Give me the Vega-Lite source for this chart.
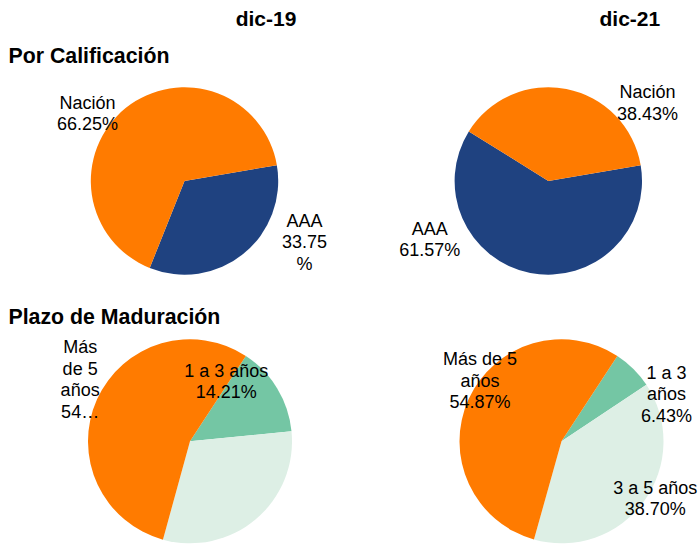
{
  "$schema": "https://vega.github.io/schema/vega-lite/v6.json",
  "width": 698,
  "height": 546,
  "autosize": {"type": "none"},
  "padding": 0,
  "background": "white",
  "config": {
    "view": {"stroke": null},
    "axisY": {"title": null, "domain": false, "ticks": false, "tickSize": 0, "grid": false, "labelFont": "Liberation Sans", "labelFontWeight": "bold", "labelFontSize": 21.3, "labelColor": "#000000", "labelPadding": -8, "labelAlign": "left", "labelBaseline": "alphabetic", "labelOffset": -118, "labelLimit": 400, "labelOverlap": false, "labelBound": false},
    "text": {"font": "Liberation Sans", "fontSize": 18, "lineBreak": "\n", "lineHeight": 21.5, "align": "center", "baseline": "alphabetic", "color": "#000000"}
  },
  "data": {
    "values": [
      {"panel": "Por Calificación", "period": "dic-19", "category": "AAA", "value": 33.75, "label": "AAA\n33.75\n%"},
      {"panel": "Por Calificación", "period": "dic-19", "category": "Nación", "value": 66.25, "label": "Nación\n66.25%"},
      {"panel": "Por Calificación", "period": "dic-21", "category": "AAA", "value": 61.57, "label": "AAA\n61.57%"},
      {"panel": "Por Calificación", "period": "dic-21", "category": "Nación", "value": 38.43, "label": "Nación\n38.43%"},
      {"panel": "Plazo de Maduración", "period": "dic-19", "category": "1 a 3 años", "value": 14.21, "label": "1 a 3 años\n14.21%"},
      {"panel": "Plazo de Maduración", "period": "dic-19", "category": "3 a 5 años", "value": 30.84, "label": ""},
      {"panel": "Plazo de Maduración", "period": "dic-19", "category": "Más de 5 años", "value": 54.95, "label": "Más\nde 5\naños\n54…"},
      {"panel": "Plazo de Maduración", "period": "dic-21", "category": "1 a 3 años", "value": 6.43, "label": "1 a 3\naños\n6.43%"},
      {"panel": "Plazo de Maduración", "period": "dic-21", "category": "3 a 5 años", "value": 38.70, "label": "3 a 5 años\n38.70%"},
      {"panel": "Plazo de Maduración", "period": "dic-21", "category": "Más de 5 años", "value": 54.87, "label": "Más de 5\naños\n54.87%"}
    ]
  },
  "resolve": {"scale": {"x": "independent", "theta": "independent"}, "axis": {"y": "shared"}},
  "layer": [
    {
      "transform": [{"filter": "datum.panel==='Por Calificación' && datum.period==='dic-19'"}],
      "mark": {"type": "arc", "outerRadius": 93.7},
      "encoding": {
        "x": {"field": "period", "type": "nominal", "scale": {"domain": ["dic-19", "dic-21"], "padding": 0.4593, "align": 0.5521},
          "axis": {"orient": "top", "title": null, "domain": false, "ticks": false, "tickSize": 0, "grid": false, "labelAngle": 0, "labelFont": "Liberation Sans", "labelFontWeight": "bold", "labelFontSize": 21, "labelColor": "#000000", "labelPadding": -25, "labelOffset": 81, "labelBaseline": "alphabetic", "labelAlign": "center", "labelOverlap": false, "labelBound": false}},
        "y": {"field": "panel", "type": "nominal", "scale": {"domain": ["Por Calificación", "Plazo de Maduración"], "padding": 0.5488, "align": 0.6335}},
        "theta": {"field": "value", "type": "quantitative", "stack": true, "scale": {"domain": [0, 100], "range": [1.4015, 7.6847]}},
        "order": {"field": "category", "sort": "ascending"},
        "color": {"field": "category", "type": "nominal", "legend": null, "scale": {"domain": ["AAA", "Nación", "1 a 3 años", "3 a 5 años", "Más de 5 años"], "range": ["#1F4280", "#FF7B00", "#74C6A4", "#DDEFE5", "#FF7B00"]}}
      }
    },
    {
      "transform": [{"filter": "datum.panel==='Por Calificación' && datum.period==='dic-21'"}],
      "mark": {"type": "arc", "outerRadius": 93.7},
      "encoding": {
        "x": {"field": "period", "type": "nominal", "scale": {"domain": ["dic-19", "dic-21"], "padding": 0.4593, "align": 0.5521}, "axis": null},
        "y": {"field": "panel", "type": "nominal", "scale": {"domain": ["Por Calificación", "Plazo de Maduración"], "padding": 0.5488, "align": 0.6335}},
        "theta": {"field": "value", "type": "quantitative", "stack": true, "scale": {"domain": [0, 100], "range": [1.4015, 7.6847]}},
        "order": {"field": "category", "sort": "ascending"},
        "color": {"field": "category", "type": "nominal", "legend": null}
      }
    },
    {
      "transform": [{"filter": "datum.panel==='Plazo de Maduración' && datum.period==='dic-19'"}],
      "mark": {"type": "arc", "outerRadius": 102},
      "encoding": {
        "x": {"field": "period", "type": "nominal", "scale": {"domain": ["dic-19", "dic-21"], "padding": 0.43943, "align": 0.58193}, "axis": null},
        "y": {"field": "panel", "type": "nominal", "scale": {"domain": ["Por Calificación", "Plazo de Maduración"], "padding": 0.5488, "align": 0.6335}},
        "theta": {"field": "value", "type": "quantitative", "stack": true, "scale": {"domain": [0, 100], "range": [0.5795, 6.8627]}},
        "order": {"field": "category", "sort": "ascending"},
        "color": {"field": "category", "type": "nominal", "legend": null}
      }
    },
    {
      "transform": [{"filter": "datum.panel==='Plazo de Maduración' && datum.period==='dic-21'"}],
      "mark": {"type": "arc", "outerRadius": 102},
      "encoding": {
        "x": {"field": "period", "type": "nominal", "scale": {"domain": ["dic-19", "dic-21"], "padding": 0.43943, "align": 0.58193}, "axis": null},
        "y": {"field": "panel", "type": "nominal", "scale": {"domain": ["Por Calificación", "Plazo de Maduración"], "padding": 0.5488, "align": 0.6335}},
        "theta": {"field": "value", "type": "quantitative", "stack": true, "scale": {"domain": [0, 100], "range": [0.5795, 6.8627]}},
        "order": {"field": "category", "sort": "ascending"},
        "color": {"field": "category", "type": "nominal", "legend": null}
      }
    },
    {
      "transform": [{"filter": "datum.panel==='Por Calificación' && datum.period==='dic-19'"}],
      "mark": {"type": "text", "radius": 117.6, "dx": -23, "dy": 19},
      "encoding": {
        "x": {"field": "period", "type": "nominal", "scale": {"domain": ["dic-19", "dic-21"], "padding": 0.4593, "align": 0.5521}, "axis": null},
        "y": {"field": "panel", "type": "nominal", "scale": {"domain": ["Por Calificación", "Plazo de Maduración"], "padding": 0.5488, "align": 0.6335}},
        "theta": {"field": "value", "type": "quantitative", "stack": true, "scale": {"domain": [0, 100], "range": [1.4015, 7.6847]}},
        "order": {"field": "category", "sort": "ascending"},
        "text": {"condition": {"test": "datum.category==='Nación'", "field": "label"}, "value": ""}
      }
    },
    {
      "transform": [{"filter": "datum.panel==='Por Calificación' && datum.period==='dic-19'"}],
      "mark": {"type": "text", "radius": 111.5, "dx": 50, "dy": -41},
      "encoding": {
        "x": {"field": "period", "type": "nominal", "scale": {"domain": ["dic-19", "dic-21"], "padding": 0.4593, "align": 0.5521}, "axis": null},
        "y": {"field": "panel", "type": "nominal", "scale": {"domain": ["Por Calificación", "Plazo de Maduración"], "padding": 0.5488, "align": 0.6335}},
        "theta": {"field": "value", "type": "quantitative", "stack": true, "scale": {"domain": [0, 100], "range": [1.4015, 7.6847]}},
        "order": {"field": "category", "sort": "ascending"},
        "text": {"condition": {"test": "datum.category==='AAA'", "field": "label"}, "value": ""}
      }
    },
    {
      "transform": [{"filter": "datum.panel==='Por Calificación' && datum.period==='dic-21'"}],
      "mark": {"type": "text", "radius": 99.7, "dx": 80, "dy": 15},
      "encoding": {
        "x": {"field": "period", "type": "nominal", "scale": {"domain": ["dic-19", "dic-21"], "padding": 0.4593, "align": 0.5521}, "axis": null},
        "y": {"field": "panel", "type": "nominal", "scale": {"domain": ["Por Calificación", "Plazo de Maduración"], "padding": 0.5488, "align": 0.6335}},
        "theta": {"field": "value", "type": "quantitative", "stack": true, "scale": {"domain": [0, 100], "range": [1.4015, 7.6847]}},
        "order": {"field": "category", "sort": "ascending"},
        "text": {"condition": {"test": "datum.category==='Nación'", "field": "label"}, "value": ""}
      }
    },
    {
      "transform": [{"filter": "datum.panel==='Por Calificación' && datum.period==='dic-21'"}],
      "mark": {"type": "text", "radius": 75.3, "dx": -104, "dy": -20},
      "encoding": {
        "x": {"field": "period", "type": "nominal", "scale": {"domain": ["dic-19", "dic-21"], "padding": 0.4593, "align": 0.5521}, "axis": null},
        "y": {"field": "panel", "type": "nominal", "scale": {"domain": ["Por Calificación", "Plazo de Maduración"], "padding": 0.5488, "align": 0.6335}},
        "theta": {"field": "value", "type": "quantitative", "stack": true, "scale": {"domain": [0, 100], "range": [1.4015, 7.6847]}},
        "order": {"field": "category", "sort": "ascending"},
        "text": {"condition": {"test": "datum.category==='AAA'", "field": "label"}, "value": ""}
      }
    },
    {
      "transform": [{"filter": "datum.panel==='Plazo de Maduración' && datum.period==='dic-19'"}],
      "mark": {"type": "text", "radius": 135.9, "dx": 14, "dy": -32},
      "encoding": {
        "x": {"field": "period", "type": "nominal", "scale": {"domain": ["dic-19", "dic-21"], "padding": 0.43943, "align": 0.58193}, "axis": null},
        "y": {"field": "panel", "type": "nominal", "scale": {"domain": ["Por Calificación", "Plazo de Maduración"], "padding": 0.5488, "align": 0.6335}},
        "theta": {"field": "value", "type": "quantitative", "stack": true, "scale": {"domain": [0, 100], "range": [0.5795, 6.8627]}},
        "order": {"field": "category", "sort": "ascending"},
        "text": {"condition": {"test": "datum.category==='Más de 5 años'", "field": "label"}, "value": ""}
      }
    },
    {
      "transform": [{"filter": "datum.panel==='Plazo de Maduración' && datum.period==='dic-19'"}],
      "mark": {"type": "text", "radius": 64.5, "dx": -19, "dy": -31},
      "encoding": {
        "x": {"field": "period", "type": "nominal", "scale": {"domain": ["dic-19", "dic-21"], "padding": 0.43943, "align": 0.58193}, "axis": null},
        "y": {"field": "panel", "type": "nominal", "scale": {"domain": ["Por Calificación", "Plazo de Maduración"], "padding": 0.5488, "align": 0.6335}},
        "theta": {"field": "value", "type": "quantitative", "stack": true, "scale": {"domain": [0, 100], "range": [0.5795, 6.8627]}},
        "order": {"field": "category", "sort": "ascending"},
        "text": {"condition": {"test": "datum.category==='1 a 3 años'", "field": "label"}, "value": ""}
      }
    },
    {
      "transform": [{"filter": "datum.panel==='Plazo de Maduración' && datum.period==='dic-21'"}],
      "mark": {"type": "text", "radius": 105.9, "dx": 15, "dy": -32},
      "encoding": {
        "x": {"field": "period", "type": "nominal", "scale": {"domain": ["dic-19", "dic-21"], "padding": 0.43943, "align": 0.58193}, "axis": null},
        "y": {"field": "panel", "type": "nominal", "scale": {"domain": ["Por Calificación", "Plazo de Maduración"], "padding": 0.5488, "align": 0.6335}},
        "theta": {"field": "value", "type": "quantitative", "stack": true, "scale": {"domain": [0, 100], "range": [0.5795, 6.8627]}},
        "order": {"field": "category", "sort": "ascending"},
        "text": {"condition": {"test": "datum.category==='Más de 5 años'", "field": "label"}, "value": ""}
      }
    },
    {
      "transform": [{"filter": "datum.panel==='Plazo de Maduración' && datum.period==='dic-21'"}],
      "mark": {"type": "text", "radius": 117.8, "dx": 22, "dy": 21},
      "encoding": {
        "x": {"field": "period", "type": "nominal", "scale": {"domain": ["dic-19", "dic-21"], "padding": 0.43943, "align": 0.58193}, "axis": null},
        "y": {"field": "panel", "type": "nominal", "scale": {"domain": ["Por Calificación", "Plazo de Maduración"], "padding": 0.5488, "align": 0.6335}},
        "theta": {"field": "value", "type": "quantitative", "stack": true, "scale": {"domain": [0, 100], "range": [0.5795, 6.8627]}},
        "order": {"field": "category", "sort": "ascending"},
        "text": {"condition": {"test": "datum.category==='1 a 3 años'", "field": "label"}, "value": ""}
      }
    },
    {
      "transform": [{"filter": "datum.panel==='Plazo de Maduración' && datum.period==='dic-21'"}],
      "mark": {"type": "text", "radius": 106, "dx": 8, "dy": -10},
      "encoding": {
        "x": {"field": "period", "type": "nominal", "scale": {"domain": ["dic-19", "dic-21"], "padding": 0.43943, "align": 0.58193}, "axis": null},
        "y": {"field": "panel", "type": "nominal", "scale": {"domain": ["Por Calificación", "Plazo de Maduración"], "padding": 0.5488, "align": 0.6335}},
        "theta": {"field": "value", "type": "quantitative", "stack": true, "scale": {"domain": [0, 100], "range": [0.5795, 6.8627]}},
        "order": {"field": "category", "sort": "ascending"},
        "text": {"condition": {"test": "datum.category==='3 a 5 años'", "field": "label"}, "value": ""}
      }
    }
  ]
}
